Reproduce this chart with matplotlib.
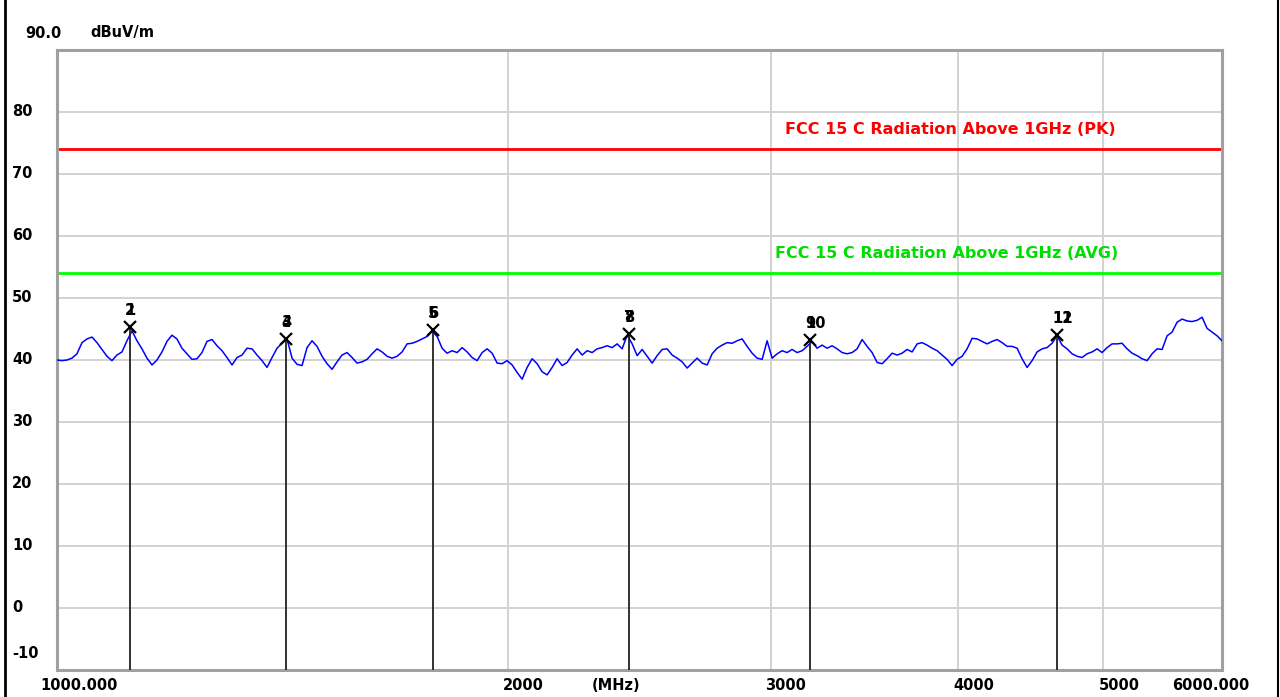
import matplotlib
matplotlib.use("Agg")
import matplotlib.pyplot as plt
from matplotlib.transforms import offset_copy, blended_transform_factory
from matplotlib.lines import Line2D

plt.rcParams['font.family'] = ['DejaVu Sans']
plt.rcParams['font.weight'] = 'bold'

trace_freq = [
    1000.0, 1007.7, 1015.5, 1023.3, 1031.2, 1039.2, 1047.2, 1055.3, 1063.4, 1071.6,
    1079.9, 1088.2, 1096.6, 1105.1, 1113.6, 1122.2, 1130.9, 1139.6, 1148.4, 1157.3,
    1166.2, 1175.2, 1184.3, 1193.4, 1202.6, 1211.9, 1221.3, 1230.7, 1240.2, 1249.8,
    1259.5, 1269.2, 1279.0, 1288.9, 1298.8, 1308.9, 1319.0, 1329.2, 1339.4, 1349.8,
    1360.2, 1370.7, 1381.3, 1392.0, 1402.7, 1413.6, 1424.5, 1435.5, 1446.6, 1457.7,
    1469.0, 1480.3, 1491.7, 1503.3, 1514.9, 1526.6, 1538.3, 1550.2, 1562.2, 1574.3,
    1586.4, 1598.7, 1611.0, 1623.5, 1636.0, 1648.7, 1661.4, 1674.2, 1687.2, 1700.2,
    1713.3, 1726.5, 1739.9, 1753.3, 1766.9, 1780.5, 1794.3, 1808.1, 1822.1, 1836.2,
    1850.3, 1864.6, 1879.0, 1893.5, 1908.2, 1922.9, 1937.8, 1952.7, 1967.8, 1983.0,
    1998.3, 2013.7, 2029.2, 2044.9, 2060.7, 2076.6, 2092.6, 2108.8, 2125.1, 2141.5,
    2158.0, 2174.7, 2191.5, 2208.4, 2225.5, 2242.7, 2260.0, 2277.4, 2295.0, 2312.7,
    2330.6, 2348.6, 2366.7, 2385.0, 2403.4, 2422.0, 2440.7, 2459.5, 2478.5, 2497.6,
    2516.9, 2536.3, 2555.9, 2575.6, 2595.5, 2615.5, 2635.7, 2656.0, 2676.5, 2697.2,
    2718.0, 2739.0, 2760.1, 2781.4, 2802.9, 2824.5, 2846.3, 2868.3, 2890.4, 2912.7,
    2935.2, 2957.9, 2980.7, 3003.7, 3026.9, 3050.2, 3073.8, 3097.5, 3121.4, 3145.5,
    3169.8, 3194.3, 3218.9, 3243.8, 3268.8, 3294.0, 3319.5, 3345.1, 3370.9, 3396.9,
    3423.2, 3449.6, 3476.2, 3503.0, 3530.1, 3557.3, 3584.8, 3612.5, 3640.4, 3668.5,
    3696.8, 3725.3, 3754.1, 3783.0, 3812.2, 3841.7, 3871.3, 3901.2, 3931.3, 3961.7,
    3992.2, 4023.0, 4054.1, 4085.4, 4116.9, 4148.7, 4180.7, 4213.0, 4245.5, 4278.3,
    4311.3, 4344.6, 4378.1, 4411.9, 4446.0, 4480.3, 4514.9, 4549.7, 4584.8, 4620.2,
    4655.9, 4691.8, 4728.0, 4764.5, 4801.3, 4838.4, 4875.7, 4913.4, 4951.3, 4989.5,
    5028.0, 5066.8, 5105.9, 5145.3, 5185.0, 5225.1, 5265.4, 5306.0, 5347.0, 5388.3,
    5429.9, 5471.8, 5514.0, 5556.6, 5599.5, 5642.7, 5686.2, 5730.1, 5774.4, 5818.9,
    5863.9, 5909.1, 5954.7, 6000.0,
]
trace_level = [
    40.0, 39.9, 40.0, 40.3, 41.0, 42.8, 43.4, 43.7, 42.8, 41.7,
    40.6, 39.9, 40.8, 41.3, 43.1, 44.7, 43.1, 41.8, 40.3, 39.2,
    40.0, 41.3, 43.0, 44.0, 43.4, 41.9, 41.0, 40.1, 40.2, 41.2,
    43.0, 43.3, 42.3, 41.5, 40.4, 39.2, 40.4, 40.8, 41.9,
    41.8, 40.8, 39.9, 38.8, 40.4, 41.9, 42.7, 43.4, 40.3, 39.3, 39.1,
    42.0, 43.1, 42.2, 40.6, 39.4, 38.5, 39.7, 40.8, 41.2, 40.4,
    39.5, 39.7, 40.1, 41.0, 41.8, 41.3, 40.6, 40.3, 40.6, 41.3,
    42.6, 42.7, 43.0, 43.4, 43.8, 44.6, 43.8,
    41.9, 41.1, 41.5, 41.2, 42.0, 41.3, 40.4, 39.9, 41.2, 41.8,
    41.1, 39.5, 39.4, 39.9, 39.2, 38.0, 36.9, 38.8, 40.2, 39.4,
    38.1, 37.6, 38.8, 40.2, 39.1, 39.6, 40.8, 41.8, 40.8, 41.5,
    41.2, 41.8, 42.0, 42.3, 42.0, 42.6, 41.8, 44.0,
    42.6, 40.7, 41.7, 40.6, 39.5, 40.7, 41.7, 41.8, 40.8, 40.3,
    39.7, 38.7, 39.5, 40.3, 39.5, 39.2, 41.0, 41.9, 42.4, 42.8,
    42.7, 43.1, 43.4, 42.2, 41.1, 40.3, 40.1, 43.1, 40.3, 41.0,
    41.5, 41.2, 41.7, 41.2, 41.5, 42.2, 43.0, 41.9,
    42.4, 41.9, 42.3, 41.8, 41.2, 41.0, 41.2, 41.8, 43.3, 42.2,
    41.2, 39.6, 39.4, 40.2, 41.1, 40.8, 41.1, 41.7, 41.3, 42.6,
    42.8, 42.4, 41.9, 41.5, 40.8, 40.1, 39.1, 40.1, 40.6, 41.8,
    43.5, 43.4, 43.0, 42.6, 43.0, 43.3, 42.8, 42.2,
    42.2, 41.9, 40.2, 38.8, 39.9, 41.3, 41.8, 42.0, 42.7, 43.9,
    42.4, 41.8, 41.0, 40.6, 40.4, 41.0, 41.3, 41.8, 41.2, 42.0,
    42.6, 42.6, 42.7, 41.8, 41.1, 40.7, 40.2, 39.9, 41.0, 41.8,
    41.7, 43.9, 44.5, 46.1, 46.6, 46.3, 46.2, 46.4, 46.9, 45.1, 44.5, 43.9, 43.1,
]

# marker points (each pair of marker numbers sits on the same frequency)
marker_freq = [1118.7, 1422.3, 1783.3, 2410.8, 3184.5, 4655.9]
marker_level = [45.3, 43.4, 44.8, 44.2, 43.2, 44.0]
marker_ids = [("1", "2"), ("3", "4"), ("5", "6"), ("7", "8"), ("9", "10"), ("11", "12")]

limit_pk = 74.0
limit_avg = 54.0
limit_pk_label = "FCC 15 C Radiation Above 1GHz (PK)"
limit_avg_label = "FCC 15 C Radiation Above 1GHz (AVG)"

x_ticks = [1000, 2000, 3000, 4000, 5000, 6000]
x_tick_labels = ["1000.000", "2000", "3000", "4000", "5000", "6000.000"]
y_ticks = [-10, 0, 10, 20, 30, 40, 50, 60, 70, 80]

fig = plt.figure(figsize=(12.8, 6.97), dpi=100)
ax = fig.add_axes([57 / 1280, 1 - 670 / 697, 1165 / 1280, 620 / 697])
ax.set_xscale('log')
ax.set_xlim(1000, 6000)
ax.set_ylim(-10, 90)

# grid
for f in x_ticks[1:-1]:
    ax.axvline(f, color='#d2d2d2', lw=1.4, zorder=0)
for v in y_ticks + [90]:
    ax.axhline(v, color='#d2d2d2', lw=1.4, zorder=0)

ax.set_xticks([])
ax.set_yticks([])
ax.minorticks_off()
for s in ax.spines.values():
    s.set_color('#a0a0a0')
    s.set_linewidth(2.2)

# limit lines
ax.axhline(limit_pk, color='#ff0000', lw=2.0, zorder=2)
ax.axhline(limit_avg, color='#00ff00', lw=2.0, zorder=2)
ax.annotate(limit_pk_label, xy=(0.909, limit_pk), xycoords=('axes fraction', 'data'),
            xytext=(0, 20), textcoords='offset pixels', ha='right', va='center',
            color='#ff0000', fontsize=11.5, fontweight='bold')
ax.annotate(limit_avg_label, xy=(0.911, limit_avg), xycoords=('axes fraction', 'data'),
            xytext=(0, 20), textcoords='offset pixels', ha='right', va='center',
            color='#00dd00', fontsize=11.5, fontweight='bold')

# trace
ax.plot(trace_freq, trace_level, color='#0000ff', lw=1.1, zorder=3)

# markers
ax.vlines(marker_freq, -10, marker_level, color='#222222', lw=1.3, zorder=4)
ax.plot(marker_freq, marker_level, 'x', color='black', ms=9, mew=1.6, zorder=5)
for f, v, ids in zip(marker_freq, marker_level, marker_ids):
    # the two numbers are printed on top of each other, as in the original plot
    for t in ids:
        ax.annotate(t, xy=(f, v), xytext=(-5, 9), textcoords='offset pixels',
                    ha='left', va='bottom', fontsize=10.5, fontweight='bold', color='black')

# x tick labels
xt = blended_transform_factory(ax.transData, ax.transAxes)
x_offsets = [-17, -5, -6, -5, -5, -50]
for f, lab, dx in zip(x_ticks, x_tick_labels, x_offsets):
    ax.text(f, 0, lab, transform=offset_copy(xt, fig=fig, x=dx, y=-16, units='dots'),
            ha='left', va='center', fontsize=10.5, fontweight='bold', clip_on=False)
fig.text(592 / 1280, 1 - 686 / 697, "(MHz)", ha='left', va='center',
         fontsize=10.5, fontweight='bold')

# y tick labels
yt = blended_transform_factory(ax.transAxes, ax.transData)
for v in y_ticks:
    dy = 17 if v == -10 else 0
    ax.text(0, v, str(v), transform=offset_copy(yt, fig=fig, x=-45, y=dy, units='dots'),
            ha='left', va='center', fontsize=10.5, fontweight='bold', clip_on=False)
fig.text(25 / 1280, 1 - 33 / 697, "90.0", ha='left', va='center', fontsize=10.5, fontweight='bold')
fig.text(90 / 1280, 1 - 33 / 697, "dBuV/m", ha='left', va='center', fontsize=10.5, fontweight='bold')

# window border on the sides
fig.add_artist(Line2D([5 / 1280, 5 / 1280], [0, 1], transform=fig.transFigure, color='black', lw=2))
fig.add_artist(Line2D([1277.5 / 1280, 1277.5 / 1280], [0, 1], transform=fig.transFigure, color='black', lw=1.5))

fig.savefig("out.png", dpi=100)
